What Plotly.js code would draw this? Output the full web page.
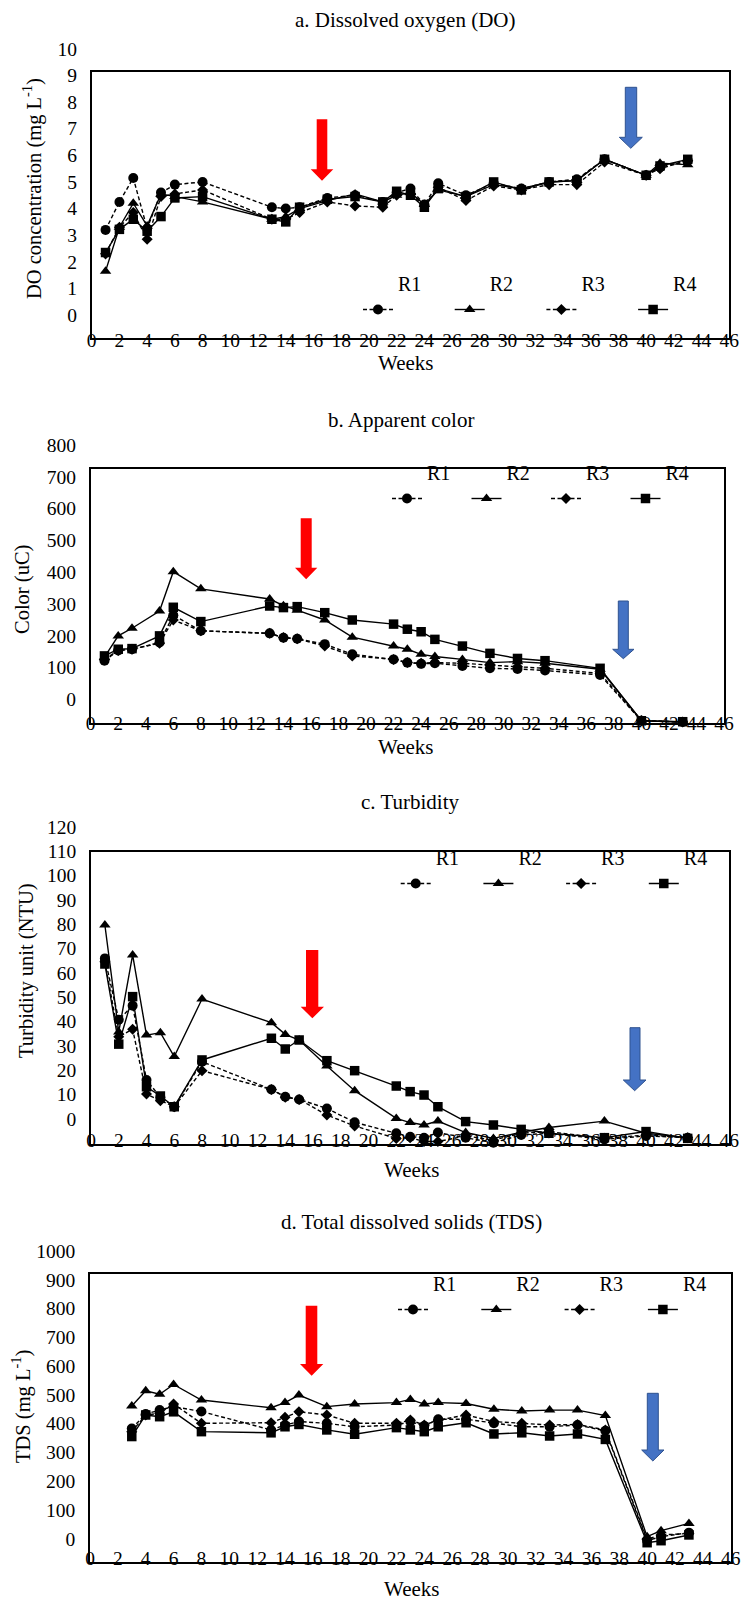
<!DOCTYPE html>
<html><head><meta charset="utf-8">
<script src="https://cdn.plot.ly/plotly-3.0.1.min.js"></script>
<style>html,body{margin:0;padding:0;background:#fff;}#chart{width:741px;height:1602px;}</style>
</head><body><div id="chart"></div>
<script>
// ---------------- data ----------------
const seriesNames = ['R1', 'R2', 'R3', 'R4'];

// a. Dissolved oxygen (mg/L)
const weeksDO = [1,2,3,4,5,6,8,13,14,15,17,19,21,22,23,24,25,27,29,31,33,35,37,40,41,43];
const doR1 = [4.06,5.11,6.01,4.11,5.46,5.76,5.86,4.91,4.86,4.91,5.26,5.36,5.11,5.46,5.61,5.01,5.81,5.36,5.81,5.61,5.86,5.96,6.71,6.11,6.41,6.66];
const doR2 = [2.51,4.16,5.06,4.21,5.41,5.31,5.11,4.46,4.56,4.86,5.16,5.41,5.11,5.36,5.46,5.01,5.56,5.31,5.76,5.61,5.86,5.91,6.71,6.11,6.56,6.51];
const doR3 = [3.16,4.16,4.71,3.71,5.31,5.41,5.56,4.46,4.46,4.71,5.11,4.96,4.91,5.36,5.41,4.96,5.66,5.16,5.71,5.56,5.76,5.76,6.61,6.11,6.36,6.66];
const doR4 = [3.21,4.08,4.46,4.01,4.56,5.26,5.31,4.46,4.36,4.91,5.21,5.31,5.11,5.51,5.36,4.91,5.61,5.31,5.86,5.56,5.86,5.91,6.71,6.11,6.46,6.71];

// b. Apparent color (uC)
const weeksColor = [1,2,3,5,6,8,13,14,15,17,19,22,23,24,25,27,29,31,33,37,40,43];
const colorR1 = [197,229,233,254,340,291,283,269,266,249,217,201,191,187,189,180,173,171,166,152,8,4];
const colorR2 = [208,275,299,353,477,423,391,370,356,325,271,243,233,217,210,201,191,194,189,170,8,4];
const colorR3 = [201,229,233,252,325,291,283,270,266,243,212,201,191,189,191,189,183,178,173,157,9,4];
const colorR4 = [212,233,235,275,365,320,369,364,367,348,325,312,296,288,264,243,220,204,197,173,8,5];

// c. Turbidity (NTU)
const weeksTurb = [1,2,3,4,5,6,8,13,14,15,17,19,22,23,24,25,27,29,31,33,37,40,43];
const turbR1 = [76.2,51.0,56.8,26.3,19.2,15.3,33.8,22.4,19.4,18.3,14.6,8.9,4.4,3.0,2.6,4.7,2.6,0.5,3.7,4.4,1.9,3.3,2.6];
const turbR2 = [89.9,46.0,77.6,44.7,45.7,35.9,59.5,49.8,45.0,42.7,32.0,21.9,10.5,8.8,7.8,9.4,4.7,2.3,4.8,6.8,9.4,4.4,2.6];
const turbR3 = [74.8,44.0,47.1,20.5,17.8,15.3,30.1,22.4,19.2,18.3,11.9,7.4,2.3,2.6,1.0,1.0,3.3,1.6,4.4,5.1,2.3,3.7,2.6];
const turbR4 = [73.9,41.0,60.5,23.5,19.7,15.3,34.5,43.4,39.0,42.7,34.2,30.1,23.8,21.5,20.1,15.3,9.2,7.8,6.0,4.4,2.6,5.1,2.3];

// d. Total dissolved solids (mg/L)
const weeksTDS = [3,4,5,6,8,13,14,15,17,19,22,23,24,25,27,29,31,33,35,37,40,41,43];
const tdsR1 = [463,513,527,539,522,458,475,487,481,469,475,487,472,495,495,481,469,469,475,455,73,87,101];
const tdsR2 = [541,594,582,616,562,535,553,579,539,548,553,564,548,553,550,530,524,527,527,508,87,108,133];
const tdsR3 = [452,510,516,548,481,483,502,521,510,481,481,492,475,492,510,487,481,475,477,458,78,93,98];
const tdsR4 = [435,510,504,521,452,448,469,477,458,443,466,458,452,469,483,444,448,437,444,425,66,73,93];

const panelTitles = ['a. Dissolved oxygen (DO)', 'b. Apparent color', 'c. Turbidity', 'd. Total dissolved solids (TDS)'];
const yTitles = ['DO concentration (mg L<sup>-1</sup>)', 'Color (uC)', 'Turbidity unit (NTU)', 'TDS (mg L<sup>-1</sup>)'];
const xTitle = 'Weeks';
const yMax = [10, 800, 120, 1000];
const yStep = [1, 100, 10, 100];
const xMax = 46, xStep = 2;

// ---------------- layout geometry (pixels) ----------------
const W = 741, H = 1602;
const FONT = '"Liberation Serif", "Times New Roman", Times, serif';
const px = v => v / W;
const py = v => 1 - v / H;
const boxes = [
  {l: 91.7, r: 729.3, t: 71.7, b: 338},
  {l: 90.7, r: 724.0, t: 469, b: 723.3},
  {l: 91.0, r: 729.3, t: 851.7, b: 1144},
  {l: 90.0, r: 730.7, t: 1274, b: 1561.7}
];
const yShift = [-23, -24, -25, -23];
const xStandoff = [-16, -19, -22, -22];
const titlePos = [[405, 20], [401, 420], [410, 802], [411, 1222]];
const weeksPos = [[405, 363], [405, 747], [411, 1170], [411, 1589]];
const yTitlePos = [[33, 189], [22, 590], [26, 971], [21, 1407]];
const legendPos = [ // first symbol centre x, symbol y, spacing
  [383, 308, 91.7], [412, 497, 79.5], [420.7, 882, 82.7], [418, 1308, 83.3]
];
const arrows = [ // [shaftL, shaftR, top, headStart, headL, headR, tip]
  {c: 'red', g: [316.7, 327.3, 119.3, 169.3, 310.7, 333.3, 180.7]},
  {c: 'blue', g: [625.3, 636.7, 87.3, 137.3, 619.3, 642.3, 148.3]},
  {c: 'red', g: [300.7, 311.7, 518.3, 567.7, 295, 317.3, 579.3]},
  {c: 'blue', g: [618.3, 628.3, 601, 649.3, 612.7, 634, 658.7]},
  {c: 'red', g: [306, 318.3, 950, 1006.7, 300.7, 324, 1018.3]},
  {c: 'blue', g: [630, 640, 1027.7, 1080, 623.3, 646, 1090.7]},
  {c: 'red', g: [305.7, 317.3, 1305.7, 1364, 300, 323.3, 1375.7]},
  {c: 'blue', g: [647.3, 658.3, 1393.3, 1450, 641.7, 664, 1461]}
];

// ---------------- traces ----------------
const panels = [
  {x: weeksDO, ys: [doR1, doR2, doR3, doR4]},
  {x: weeksColor, ys: [colorR1, colorR2, colorR3, colorR4]},
  {x: weeksTurb, ys: [turbR1, turbR2, turbR3, turbR4]},
  {x: weeksTDS, ys: [tdsR1, tdsR2, tdsR3, tdsR4]}
];
const styles = [
  {dash: '4px,2.5px', symbol: 'circle', size: 10},
  {dash: 'solid', symbol: 'triangle-up', size: 10},
  {dash: '4px,2.5px', symbol: 'diamond', size: 8.5},
  {dash: 'solid', symbol: 'square', size: 9.5}
];

const traces = [];
panels.forEach((p, i) => {
  const sfx = i === 0 ? '' : String(i + 1);
  p.ys.forEach((ys, k) => {
    traces.push({
      type: 'scatter', mode: 'lines+markers',
      x: p.x, y: ys, name: seriesNames[k] + '<br>&nbsp;',
      xaxis: 'x' + sfx, yaxis: 'y' + sfx,
      legend: 'legend' + sfx,
      line: {color: '#000', width: 1.4, dash: styles[k].dash},
      marker: {color: '#000', symbol: styles[k].symbol, size: styles[k].size, line: {width: 0}},
      cliponaxis: false,
      hoverinfo: 'x+y'
    });
  });
});

// ---------------- layout ----------------
const layout = {
  width: W, height: H,
  margin: {l: 0, r: 0, t: 0, b: 0},
  paper_bgcolor: '#fff', plot_bgcolor: '#fff',
  font: {family: FONT, size: 19, color: '#000'},
  showlegend: true,
  annotations: [], shapes: []
};

boxes.forEach((b, i) => {
  const sfx = i === 0 ? '' : String(i + 1);
  layout['xaxis' + sfx] = {
    domain: [px(b.l), px(b.r)], anchor: 'y' + sfx,
    range: [0, xMax], tick0: 0, dtick: xStep,
    showline: true, mirror: true, linecolor: '#000', linewidth: 1.6,
    showgrid: false, zeroline: false, ticks: '',
    tickfont: {family: FONT, size: 19.5, color: '#000'},
    ticklabelstandoff: xStandoff[i],
    fixedrange: true
  };
  layout['yaxis' + sfx] = {
    domain: [py(b.b), py(b.t)], anchor: 'x' + sfx,
    range: [0, yMax[i]], tick0: 0, dtick: yStep[i],
    showline: true, mirror: true, linecolor: '#000', linewidth: 1.6,
    showgrid: false, zeroline: false, ticks: '',
    tickfont: {family: FONT, size: 19.5, color: '#000'},
    ticklabelshift: yShift[i], ticklabelstandoff: 9,
    fixedrange: true
  };
  const lp = legendPos[i];
  layout['legend' + sfx] = {
    orientation: 'h', xanchor: 'left', yanchor: 'top',
    x: px(lp[0] - 25), y: py(lp[1] - 44),
    bgcolor: 'rgba(0,0,0,0)', borderwidth: 0,
    font: {family: FONT, size: 20, color: '#000'},
    valign: 'bottom', entrywidth: lp[2] - 45, entrywidthmode: 'pixels',
    itemclick: false, itemdoubleclick: false
  };
  layout.annotations.push({
    xref: 'paper', yref: 'paper', x: px(titlePos[i][0]), y: py(titlePos[i][1]),
    xanchor: 'center', yanchor: 'middle', showarrow: false,
    text: panelTitles[i], font: {family: FONT, size: 21, color: '#000'}
  });
  layout.annotations.push({
    xref: 'paper', yref: 'paper', x: px(weeksPos[i][0]), y: py(weeksPos[i][1]),
    xanchor: 'center', yanchor: 'middle', showarrow: false,
    text: xTitle, font: {family: FONT, size: 21, color: '#000'}
  });
  layout.annotations.push({
    xref: 'paper', yref: 'paper', x: px(yTitlePos[i][0]), y: py(yTitlePos[i][1]),
    xanchor: 'center', yanchor: 'middle', showarrow: false, textangle: -90,
    text: yTitles[i], font: {family: FONT, size: 20.5, color: '#000'}
  });
});

arrows.forEach(a => {
  const [sl, sr, t, hs, hl, hr, tip] = a.g;
  const cx = (hl + hr) / 2;
  const path = `M${px(sl)},${py(t)} L${px(sr)},${py(t)} L${px(sr)},${py(hs)} L${px(hr)},${py(hs)} L${px(cx)},${py(tip)} L${px(hl)},${py(hs)} L${px(sl)},${py(hs)} Z`;
  layout.shapes.push({
    type: 'path', xref: 'paper', yref: 'paper', path: path,
    fillcolor: a.c === 'red' ? '#FF0000' : '#4472C4',
    line: {color: a.c === 'red' ? '#FF0000' : '#2F528F', width: a.c === 'red' ? 0 : 1},
    layer: 'above'
  });
});

Plotly.newPlot('chart', traces, layout, {displayModeBar: false});
</script>
</body></html>
